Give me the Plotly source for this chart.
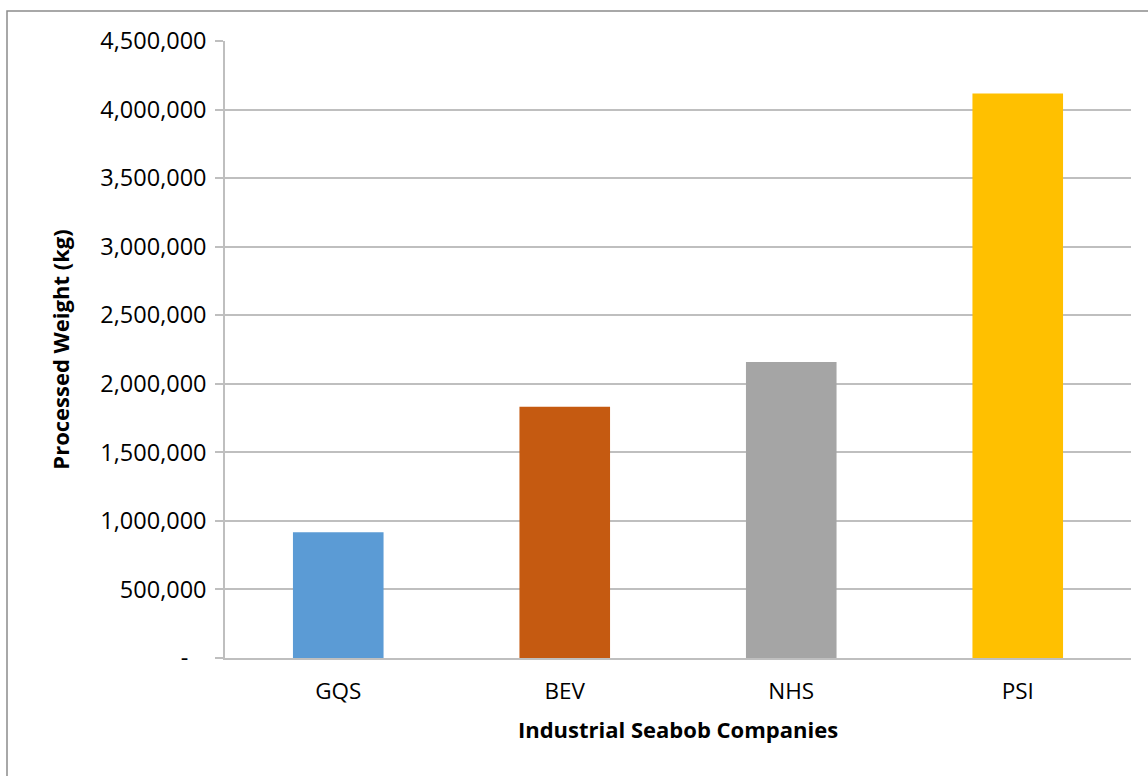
import plotly.graph_objects as go

companies = ["GQS", "BEV", "NHS", "PSI"]
weights = [918000, 1833000, 2159000, 4118000]
bar_colors = ["#5B9BD5", "#C55A11", "#A5A5A5", "#FFC000"]
tick_values = [0, 500000, 1000000, 1500000, 2000000, 2500000, 3000000, 3500000, 4000000, 4500000]
tick_labels = ["-&nbsp;&nbsp;&nbsp;"] + [f"{v:,}" for v in tick_values[1:]]

W, H = 1148, 776
ml, mr, mt, mb = 225, 17, 41, 118

fig = go.Figure(go.Bar(x=companies, y=weights, marker=dict(color=bar_colors, line=dict(width=0)), width=0.4))

pw = W - ml - mr
ph = H - mt - mb
# outer chart border (extends past right and bottom edges)
fig.add_shape(type="rect", xref="paper", yref="paper",
              x0=(7 - ml) / pw, x1=(W + 10 - ml) / pw,
              y0=-(H + 10 - mt - ph) / ph, y1=(H - 11 - mb) / ph,
              line=dict(color="#8C8C8C", width=1.5), fillcolor="rgba(0,0,0,0)", layer="below")

fig.update_layout(
    width=W, height=H,
    margin=dict(l=ml, r=mr, t=mt, b=mb),
    paper_bgcolor="white", plot_bgcolor="white",
    font=dict(family="Open Sans", size=22, color="#000000"),
    showlegend=False,
    xaxis=dict(showline=True, linecolor="#BFBFBF", linewidth=1.5, ticks="", tickfont=dict(size=22.5),
               ticklabelstandoff=12,
               title=dict(text="<b>Industrial Seabob Companies</b>", font=dict(size=22), standoff=18)),
    yaxis=dict(range=[0, 4500000], tickvals=tick_values, ticktext=tick_labels,
               showgrid=True, gridcolor="#BFBFBF", gridwidth=1.5,
               showline=True, linecolor="#BFBFBF", linewidth=1.5,
               ticks="outside", ticklen=8, tickcolor="#BFBFBF", tickwidth=1.5,
               tickfont=dict(size=23.5), ticklabelstandoff=4, zeroline=False,
               title=dict(text="<b>Processed Weight (kg)</b>", font=dict(size=22), standoff=25)),
)

fig.write_html("out.html")
